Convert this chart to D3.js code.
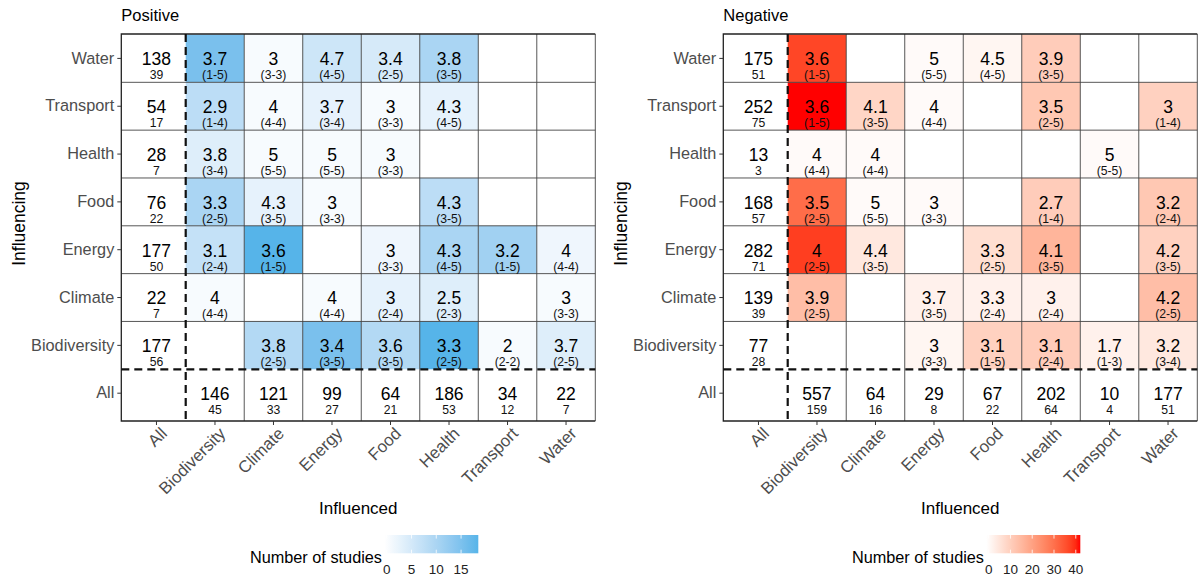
<!DOCTYPE html>
<html>
<head>
<meta charset="utf-8">
<script src="https://cdn.jsdelivr.net/npm/d3@7"></script>
<style>
  body { margin: 0; background: #fff; }
  svg text { font-family: "Liberation Sans", Arial, sans-serif; }
</style>
</head>
<body>
<svg id="chart" width="1201" height="578"></svg>
<script>
// ---- categories ----
const influencing = ["Water", "Transport", "Health", "Food", "Energy", "Climate", "Biodiversity", "All"];
const influenced = ["All", "Biodiversity", "Climate", "Energy", "Food", "Health", "Transport", "Water"];
const innerRows = influencing.slice(0, 7);
const innerCols = influenced.slice(1);

// ---- Positive: mean score, score range, number of studies (rows = influencing, cols = influenced) ----
const posMean = [
  [3.7, 3, 4.7, 3.4, 3.8, null, null],
  [2.9, 4, 3.7, 3, 4.3, null, null],
  [3.8, 5, 5, 3, null, null, null],
  [3.3, 4.3, 3, null, 4.3, null, null],
  [3.1, 3.6, null, 3, 4.3, 3.2, 4],
  [4, null, 4, 3, 2.5, null, 3],
  [null, 3.8, 3.4, 3.6, 3.3, 2, 3.7]
];
const posRange = [
  ["1-5", "3-3", "4-5", "2-5", "3-5", null, null],
  ["1-4", "4-4", "3-4", "3-3", "4-5", null, null],
  ["3-4", "5-5", "5-5", "3-3", null, null, null],
  ["2-5", "3-5", "3-3", null, "3-5", null, null],
  ["2-4", "1-5", null, "3-3", "4-5", "1-5", "4-4"],
  ["4-4", null, "4-4", "2-4", "2-3", null, "3-3"],
  [null, "2-5", "3-5", "3-5", "2-5", "2-2", "2-5"]
];
const posStudies = [
  [15, 1, 6, 5, 10, 0, 0],
  [8, 1, 3, 1, 3, 0, 0],
  [4, 1, 1, 1, 0, 0, 0],
  [10, 3, 1, 0, 8, 0, 0],
  [7, 18, 0, 2, 10, 11, 2],
  [1, 0, 1, 3, 4, 0, 1],
  [0, 9, 15, 9, 18, 1, 4]
];
const posRowTotal = [138, 54, 28, 76, 177, 22, 177];
const posRowN = [39, 17, 7, 22, 50, 7, 56];
const posColTotal = [146, 121, 99, 64, 186, 34, 22];
const posColN = [45, 33, 27, 21, 53, 12, 7];
const posTicks = [0, 5, 10, 15];

// ---- Negative ----
const negMean = [
  [3.6, null, 5, 4.5, 3.9, null, null],
  [3.6, 4.1, 4, null, 3.5, null, 3],
  [4, 4, null, null, null, 5, null],
  [3.5, 5, 3, null, 2.7, null, 3.2],
  [4, 4.4, null, 3.3, 4.1, null, 4.2],
  [3.9, null, 3.7, 3.3, 3, null, 4.2],
  [null, null, 3, 3.1, 3.1, 1.7, 3.2]
];
const negRange = [
  ["1-5", null, "5-5", "4-5", "3-5", null, null],
  ["1-5", "3-5", "4-4", null, "2-5", null, "1-4"],
  ["4-4", "4-4", null, null, null, "5-5", null],
  ["2-5", "5-5", "3-3", null, "1-4", null, "2-4"],
  ["2-5", "3-5", null, "2-5", "3-5", null, "3-5"],
  ["2-5", null, "3-5", "2-4", "2-4", null, "2-5"],
  [null, null, "3-3", "1-5", "2-4", "1-3", "3-4"]
];
const negStudies = [
  [36, 0, 1, 2, 11, 0, 0],
  [41, 9, 1, 0, 12, 0, 10],
  [1, 1, 0, 0, 0, 1, 0],
  [30, 1, 1, 0, 11, 0, 12],
  [37, 5, 0, 7, 16, 0, 10],
  [14, 0, 3, 3, 3, 0, 14],
  [0, 0, 2, 10, 11, 3, 5]
];
const negRowTotal = [175, 252, 13, 168, 282, 139, 77];
const negRowN = [51, 75, 3, 57, 71, 39, 28];
const negColTotal = [557, 64, 29, 67, 202, 10, 177];
const negColN = [159, 16, 8, 22, 64, 4, 51];
const negTicks = [0, 10, 20, 30, 40];

const svg = d3.select('#chart');

// panel frame (ggplot expands the panel a little at left and bottom)
const pLeft = 121.3, pTop = 34, pRight = 595.3, pBottom = 421;
const x = d3.scaleBand().domain(influenced).range([127.2, pRight]);
const y = d3.scaleBand().domain(influencing).range([34.5, 417.1]);

function drawPanel(dx, title, mean, range, studies, rowTotal, rowN, colTotal, colN, high, maxN, ticks) {
    const g = svg.append('g').attr('transform', `translate(${dx},0)`);
    const color = d3.scaleLinear().domain([0, maxN]).range(['#ffffff', high]).interpolate(d3.interpolateLab);

    const cells = [];
    innerRows.forEach((r, i) => innerCols.forEach((c, j) => {
        if (mean[i][j] != null) cells.push({ r, c, m: mean[i][j], rg: range[i][j], n: studies[i][j] });
    }));

    // tiles
    g.selectAll('rect.tile')
        .data(cells)
        .join('rect')
        .attr('class', 'tile')
        .attr('x', d => x(d.c))
        .attr('y', d => y(d.r))
        .attr('width', x.bandwidth())
        .attr('height', y.bandwidth())
        .attr('fill', d => color(d.n));

    // grid lines
    const vLines = innerCols.slice(1).map(c => x(c)).concat([pRight]);
    g.selectAll('line.v')
        .data(vLines)
        .join('line')
        .attr('class', 'v')
        .attr('x1', d => d).attr('x2', d => d)
        .attr('y1', pTop).attr('y2', pBottom)
        .attr('stroke', '#444').attr('stroke-width', 0.9);
    const hLines = influencing.slice(1, 7).map(r => y(r));
    g.selectAll('line.h')
        .data(hLines)
        .join('line')
        .attr('class', 'h')
        .attr('x1', pLeft).attr('x2', pRight)
        .attr('y1', d => d).attr('y2', d => d)
        .attr('stroke', '#444').attr('stroke-width', 0.9);

    // frame
    g.append('path')
        .attr('d', `M${pRight},${pTop}H${pLeft}V${pBottom}H${pRight}`)
        .attr('fill', 'none').attr('stroke', '#222').attr('stroke-width', 1.3);

    // dashed separators for the "All" margins
    g.append('line')
        .attr('x1', x('Biodiversity')).attr('x2', x('Biodiversity'))
        .attr('y1', pTop).attr('y2', pBottom)
        .attr('stroke', '#111').attr('stroke-width', 2.2).attr('stroke-dasharray', '8,5');
    g.append('line')
        .attr('x1', pLeft).attr('x2', pRight)
        .attr('y1', y('All')).attr('y2', y('All'))
        .attr('stroke', '#111').attr('stroke-width', 2.2).attr('stroke-dasharray', '8,5');

    // cell labels
    const labels = cells.map(d => ({ r: d.r, c: d.c, big: String(d.m), small: `(${d.rg})` }))
        .concat(innerRows.map((r, i) => ({ r, c: 'All', big: String(rowTotal[i]), small: String(rowN[i]) })))
        .concat(innerCols.map((c, j) => ({ r: 'All', c, big: String(colTotal[j]), small: String(colN[j]) })));

    const cx = d => x(d.c) + x.bandwidth() / 2;
    const cy = d => y(d.r) + y.bandwidth() / 2;
    g.selectAll('text.big')
        .data(labels)
        .join('text')
        .attr('class', 'big')
        .attr('x', cx).attr('y', d => cy(d) + 6.8)
        .attr('text-anchor', 'middle')
        .attr('font-size', 17.5)
        .attr('fill', '#000')
        .text(d => d.big);
    g.selectAll('text.small')
        .data(labels)
        .join('text')
        .attr('class', 'small')
        .attr('x', cx).attr('y', d => cy(d) + 20.8)
        .attr('text-anchor', 'middle')
        .attr('font-size', 12.2)
        .attr('fill', '#111')
        .text(d => d.small);

    // axes
    const ya = g.append('g').attr('transform', `translate(${pLeft},0)`)
        .call(d3.axisLeft(y).tickSize(4).tickPadding(3));
    ya.select('.domain').remove();
    ya.selectAll('line').attr('stroke', '#333');
    ya.selectAll('text').attr('font-size', 16.3).attr('fill', '#4d4d4d');
    ya.attr('font-family', null).attr('font-size', null);

    const xa = g.append('g').attr('transform', `translate(0,${pBottom})`)
        .call(d3.axisBottom(x).tickSize(4));
    xa.select('.domain').remove();
    xa.selectAll('line').attr('stroke', '#333');
    xa.attr('font-family', null).attr('font-size', null);
    xa.selectAll('text')
        .attr('font-size', 16.8).attr('fill', '#4d4d4d')
        .attr('x', 0).attr('y', 0).attr('dy', '0.72em')
        .attr('text-anchor', 'end')
        .attr('transform', 'translate(3,5) rotate(-45)');

    // titles
    g.append('text').attr('x', pLeft).attr('y', 21)
        .attr('font-size', 16.5).text(title);
    g.append('text').attr('x', (pLeft + pRight) / 2).attr('y', 514)
        .attr('text-anchor', 'middle').attr('font-size', 17).text('Influenced');
    g.append('text')
        .attr('transform', `translate(25,${(pTop + pBottom) / 2 - 4}) rotate(-90)`)
        .attr('text-anchor', 'middle').attr('font-size', 17.5).text('Influencing');

    // legend
    const gradId = 'grad' + dx;
    const grad = svg.append('defs').append('linearGradient').attr('id', gradId);
    d3.range(0, 1.0001, 0.05).forEach(t => {
        grad.append('stop').attr('offset', t).attr('stop-color', color(t * maxN));
    });
    const barX = 384.3, barW = 94, barY = 535, barH = 18.3;
    const lx = d3.scaleLinear().domain([0, maxN]).range([barX + 2.35, barX + barW - 2.35]);
    g.append('rect').attr('x', barX).attr('y', barY).attr('width', barW).attr('height', barH)
        .attr('fill', `url(#${gradId})`);
    ticks.forEach(t => {
        g.append('line').attr('x1', lx(t)).attr('x2', lx(t)).attr('y1', barY).attr('y2', barY + 3.6)
            .attr('stroke', '#fff').attr('stroke-width', 0.8);
        g.append('line').attr('x1', lx(t)).attr('x2', lx(t)).attr('y1', barY + barH - 3.6).attr('y2', barY + barH)
            .attr('stroke', '#fff').attr('stroke-width', 0.8);
    });
    g.selectAll('text.leg')
        .data(ticks)
        .join('text')
        .attr('class', 'leg')
        .attr('x', d => lx(d)).attr('y', 574)
        .attr('text-anchor', 'middle').attr('font-size', 13.5).attr('fill', '#222')
        .text(d => d);
    g.append('text').attr('x', 382).attr('y', 563)
        .attr('text-anchor', 'end').attr('font-size', 16.3).text('Number of studies');
}

drawPanel(0, 'Positive', posMean, posRange, posStudies, posRowTotal, posRowN, posColTotal, posColN, '#56B4E9', 18, posTicks);
drawPanel(602, 'Negative', negMean, negRange, negStudies, negRowTotal, negRowN, negColTotal, negColN, '#FF0000', 41, negTicks);
</script>
</body>
</html>
